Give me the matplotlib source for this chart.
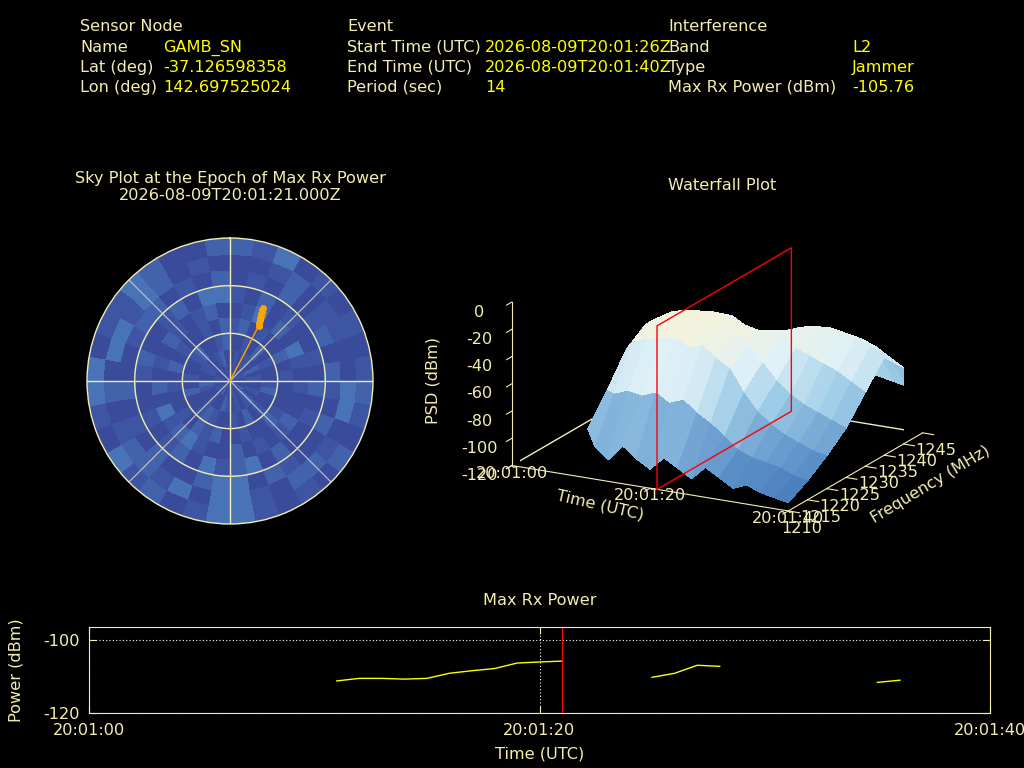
import numpy as np
import matplotlib
matplotlib.use('Agg')
import matplotlib.pyplot as plt
from matplotlib.colors import ListedColormap, LinearSegmentedColormap

plt.rcParams['axes.unicode_minus'] = False

BEIGE = '#f3eeb0'
YELLOW = '#ffff00'
FS = 11.6

# ---------------------------------------------------------------- data
header_cols = [
    ('Sensor Node', ['Name', 'Lat (deg)', 'Lon (deg)'],
     ['GAMB_SN', '-37.126598358', '142.697525024']),
    ('Event', ['Start Time (UTC)', 'End Time (UTC)', 'Period (sec)'],
     ['2026-08-09T20:01:26Z', '2026-08-09T20:01:40Z', '14']),
    ('Interference', ['Band', 'Type', 'Max Rx Power (dBm)'],
     ['L2', 'Jammer', '-105.76']),
]

# sky background level: 9 zenith rings (10 deg) x 36 azimuth sectors (10 deg)
sky_rows = [
    "101020" "110100" "201011" "010201" "101010" "011010",
    "010110" "201001" "021010" "120010" "012001" "100120",
    "001020" "100120" "010201" "001210" "020100" "120012",
    "120100" "201000" "120010" "021201" "001020" "100102",
    "013020" "310100" "210102" "001321" "302010" "210120",
    "102010" "010201" "002032" "130210" "100120" "012033",
    "010201" "202102" "001203" "320020" "102001" "220102",
    "001201" "100330" "122013" "303122" "102033" "132010",
    "213010" "101210" "201013" "310213" "013301" "132002",
]
sky_levels = np.array([[int(c) for c in row] for row in sky_rows])

# satellite track (azimuth, elevation in deg), last point = epoch of max power
track_az = [24.0, 24.3, 24.6, 25.0, 25.4, 25.8, 26.3, 26.8, 27.5]
track_el = [39.5, 40.8, 42.0, 43.3, 44.6, 46.0, 47.4, 49.0, 51.0]

# waterfall: PSD (dBm) vs time (s after 20:01:00) and frequency (MHz)
wf_time = [11, 12, 14, 16, 18, 20, 22, 24, 26, 28, 30, 32, 34, 36, 38, 40]
wf_freq = [1210, 1215, 1220, 1225, 1230, 1235, 1240, 1245]
wf_psd = [
    [-84, -64, -42, -32, -36, -50, -72, -90],
    [-96, -66, -36, -28, -30, -44, -70, -90],
    [-104, -62, -32, -24, -27, -40, -66, -88],
    [-92, -64, -30, -22, -26, -38, -64, -86],
    [-100, -60, -28, -20, -25, -36, -62, -88],
    [-106, -66, -33, -24, -28, -42, -68, -90],
    [-96, -62, -30, -26, -30, -44, -70, -92],
    [-102, -70, -38, -30, -34, -46, -68, -88],
    [-108, -76, -44, -34, -32, -40, -58, -84],
    [-98, -84, -60, -46, -36, -36, -52, -82],
    [-104, -92, -72, -58, -42, -34, -48, -80],
    [-110, -96, -80, -66, -46, -33, -46, -82],
    [-106, -98, -86, -72, -50, -36, -48, -84],
    [-110, -100, -90, -76, -54, -38, -52, -86],
    [-112, -104, -94, -80, -60, -42, -58, -88],
    [-114, -106, -96, -84, -66, -48, -64, -90],
]
epoch_t = 21

# max rx power (dBm) per second, gaps where no detection
pw_time = [11, 12, 13, 14, 15, 16, 17, 18, 19, 20, 21, np.nan,
           25, 26, 27, 28, np.nan, 35, 36]
pw_dbm = [-111.2, -110.5, -110.5, -110.7, -110.5, -109.1, -108.4, -107.8,
          -106.3, -106.0, -105.76, np.nan,
          -110.2, -109.1, -106.9, -107.2, np.nan, -111.6, -111.0]

time_ticks = [0, 20, 40]
time_labels = ['20:01:00', '20:01:20', '20:01:40']

# ---------------------------------------------------------------- figure
fig = plt.figure(figsize=(10.24, 7.68), dpi=100, facecolor='black')

def px(x, y):
    return x / 1024, 1 - y / 768

# header block (y = baseline in pixels)
col_x = [(80, 163), (347, 485), (668, 852)]
for (title, labels, values), (xl, xv) in zip(header_cols, col_x):
    fig.text(*px(xl, 31), title, color=BEIGE, fontsize=FS, va='baseline')
    for i, (lab, val) in enumerate(zip(labels, values)):
        y = 52 + i * 20
        fig.text(*px(xl, y), lab, color=BEIGE, fontsize=FS, va='baseline')
        fig.text(*px(xv, y), val, color=YELLOW, fontsize=FS, va='baseline')

# ---------------------------------------------------------------- sky plot
fig.text(*px(230, 178), 'Sky Plot at the Epoch of Max Rx Power', color=BEIGE,
         fontsize=FS, ha='center', va='center')
fig.text(*px(230, 195), '2026-08-09T20:01:21.000Z', color=BEIGE,
         fontsize=FS, ha='center', va='center')

axs = fig.add_axes([87 / 1024, 1 - 524 / 768, 286 / 1024, 286 / 768],
                   projection='polar')
axs.set_facecolor('black')
axs.set_theta_zero_location('N')
axs.set_theta_direction(-1)
sky_cmap = ListedColormap(['#3a4b9c', '#3d55a2', '#4263ac', '#4873b6', '#5586c2'])
th_edges = np.radians(np.arange(0, 361, 10))
r_edges = np.arange(0, 91, 10)
axs.pcolormesh(th_edges, r_edges, sky_levels, cmap=sky_cmap, vmin=-0.5, vmax=4.5,
               shading='flat')
axs.set_ylim(0, 90)
axs.grid(False)
axs.set_xticks([])
axs.set_yticks([])
axs.spines['polar'].set_color(BEIGE)
axs.spines['polar'].set_linewidth(1)
circ = np.linspace(0, 2 * np.pi, 361)
for r in [30, 60]:
    axs.plot(circ, np.full_like(circ, r), color=BEIGE, lw=1)
for a in [0, 90, 180, 270]:
    axs.plot([np.radians(a)] * 2, [0, 90], color=BEIGE, lw=1)
for a in [45, 135, 225, 315]:
    axs.plot([np.radians(a)] * 2, [0, 90], color='#c8c8c0', lw=0.8)
tz = 90 - np.array(track_el)
tth = np.radians(track_az)
axs.plot([tth[-1], tth[-1]], [0, tz[-1]], color='orange', lw=1)
axs.plot(tth, tz, 'o', color='orange', ms=4, mec='orange')

# ---------------------------------------------------------------- waterfall
fig.text(*px(722, 185), 'Waterfall Plot', color=BEIGE, fontsize=FS,
         ha='center', va='center')

ax3 = fig.add_axes([0.4054, 0.2648, 0.58, 0.50], projection='3d')
ax3.set_facecolor('black')
ax3.computed_zorder = False
ax3.set_proj_type('ortho')
ax3.view_init(elev=18, azim=-62)
ax3.set_box_aspect((315, 288, 173), zoom=1.157)

wf_cmap = LinearSegmentedColormap.from_list('wf', [
    (0.0, '#3d6fb2'), (0.17, '#5c90c8'), (0.42, '#9ccbe6'),
    (0.62, '#dff1f7'), (0.8, '#f4f2dc'), (1.0, '#fbf6d5')])
F, T = np.meshgrid(wf_freq, wf_time)
ax3.plot_surface(T, F, np.array(wf_psd, dtype=float), cmap=wf_cmap, vmin=-120, vmax=0,
                 linewidth=0, antialiased=False, shade=False,
                 rcount=len(wf_time), ccount=len(wf_freq), zorder=1)
# epoch plane
f0, f1 = wf_freq[0], wf_freq[-1]
ax3.plot([epoch_t] * 5, [f0, f0, f1, f1, f0], [-120, 0, 0, -120, -120],
         color='red', lw=1, zorder=5)
# base border
ax3.plot([0, 0], [f0, f1], [-120, -120], color=BEIGE, lw=1, zorder=0)
ax3.plot([0, 40], [f1, f1], [-120, -120], color=BEIGE, lw=1, zorder=0)

ax3.set_xlim(0, 40)
ax3.set_ylim(f0, f1)
ax3.set_zlim(-120, 0)
ax3.set_xticks(time_ticks)
ax3.set_xticklabels(time_labels)
ax3.set_yticks(np.arange(1210, 1246, 5))
ax3.set_zticks(np.arange(-120, 1, 20))
ax3.zaxis.set_ticks_position('lower')
ax3.grid(False)
for axis in (ax3.xaxis, ax3.yaxis, ax3.zaxis):
    axis.set_pane_color((0, 0, 0, 0))
    axis.pane.set_edgecolor((0, 0, 0, 0))
    axis.line.set_color(BEIGE)
    axis._axinfo['tick']['inward_factor'] = 0.5
    axis._axinfo['tick']['outward_factor'] = 0.0
ax3.tick_params(colors=BEIGE, labelsize=FS)
ax3.tick_params(axis='x', pad=-8)
ax3.tick_params(axis='y', pad=-1)

# 3d axis titles placed like the original
fig.text(*px(433, 380), 'PSD (dBm)', color=BEIGE, fontsize=FS,
         rotation=90, ha='center', va='center')
fig.text(*px(600, 505), 'Time (UTC)', color=BEIGE, fontsize=FS,
         rotation=-13, ha='center', va='center', rotation_mode='anchor')
fig.text(*px(930, 485), 'Frequency (MHz)', color=BEIGE, fontsize=FS,
         rotation=31, ha='center', va='center', rotation_mode='anchor')

# ---------------------------------------------------------------- max rx power
axp = fig.add_axes([89 / 1024, 55 / 768, 901 / 1024, 86 / 768])
axp.set_facecolor('black')
axp.plot(pw_time, pw_dbm, color=YELLOW, lw=1)
axp.axvline(epoch_t, color='red', lw=1)
axp.set_xlim(0, 40)
axp.set_ylim(-120, -96.4)
axp.set_xticks(time_ticks)
axp.set_xticklabels(time_labels)
axp.set_yticks([-120, -100])
axp.grid(True, color='white', ls=(0, (1, 2)), lw=0.8)
for s in axp.spines.values():
    s.set_color(BEIGE)
axp.tick_params(colors=BEIGE, labelsize=FS, direction='in', top=True, right=True,
                length=5, pad=7)
axp.set_title('Max Rx Power', color=BEIGE, fontsize=FS, pad=16)
axp.set_xlabel('Time (UTC)', color=BEIGE, fontsize=FS, labelpad=6)
axp.set_ylabel('Power (dBm)', color=BEIGE, fontsize=FS, labelpad=14)

fig.savefig('out.png', dpi=100, facecolor='black')
